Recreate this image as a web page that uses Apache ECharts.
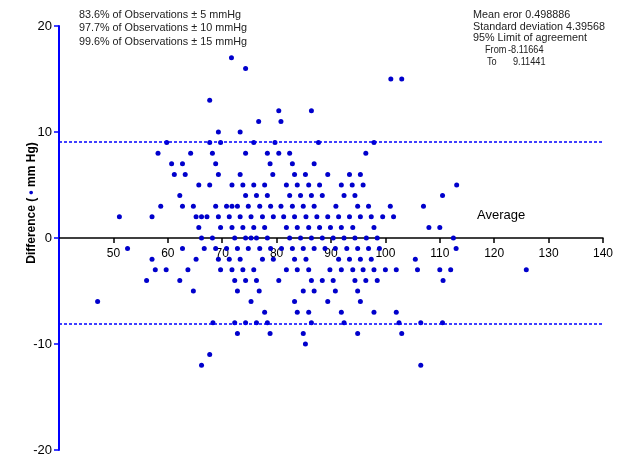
<!DOCTYPE html>
<html>
<head>
<meta charset="utf-8">
<script src="https://cdn.jsdelivr.net/npm/echarts@6/dist/echarts.min.js"></script>
<style>html,body{margin:0;padding:0;background:#fff}#c{width:619px;height:456px}</style>
</head>
<body>
<div id="c"></div>
<script>
// Difference levels (mm Hg) and the averages (mm Hg) of the observations at each level
const diffLevels = [17, 16, 15, 13, 12, 11, 10, 9, 8, 7, 6, 5, 4, 3, 2, 1, 0, -1, -2, -3, -4, -5, -6, -7, -8, -9, -10, -11, -12];
const averagesByLevel = [
  [71.7],
  [74.3],
  [101.0, 103.0],
  [67.7],
  [80.4, 86.4],
  [76.7, 80.8],
  [69.3, 73.3],
  [59.8, 67.7, 69.7, 75.8, 79.7, 87.7, 97.9],
  [58.2, 64.2, 68.2, 74.3, 78.3, 80.4, 82.4, 96.4],
  [60.7, 62.7, 68.8, 78.8, 82.9, 86.9],
  [61.2, 63.2, 69.3, 73.3, 79.3, 83.3, 85.3, 89.4, 93.4, 95.4],
  [65.7, 67.7, 71.8, 73.8, 75.8, 77.8, 81.8, 83.8, 85.9, 87.9, 91.9, 93.9, 95.9, 113.1],
  [62.2, 74.3, 76.3, 78.3, 82.4, 84.4, 86.4, 88.4, 92.4, 94.4, 110.5],
  [58.7, 62.7, 64.7, 68.8, 70.8, 71.8, 72.8, 74.8, 76.9, 78.9, 80.8, 82.9, 84.9, 86.9, 90.9, 94.9, 96.9, 100.9, 107.0],
  [51.1, 57.1, 65.2, 66.2, 67.2, 69.3, 71.3, 73.3, 75.3, 77.4, 79.4, 81.3, 83.3, 85.4, 87.4, 89.4, 91.4, 93.4, 95.4, 97.4, 99.5, 101.5],
  [65.7, 69.7, 71.8, 73.8, 75.8, 77.8, 81.8, 83.8, 85.9, 87.9, 89.9, 91.9, 94.0, 97.9, 108.0, 110.0],
  [66.2, 68.2, 72.3, 74.3, 75.3, 76.3, 78.3, 82.4, 84.4, 86.4, 88.4, 90.4, 92.4, 94.4, 96.5, 98.5, 112.5],
  [52.6, 62.7, 66.7, 68.8, 70.8, 72.8, 74.8, 76.9, 78.9, 80.9, 82.9, 84.9, 86.9, 88.9, 90.8, 92.9, 94.9, 96.9, 98.9, 113.0],
  [57.1, 65.2, 69.3, 71.3, 73.3, 77.4, 79.4, 83.3, 85.4, 91.4, 93.4, 95.4, 97.4, 105.5],
  [57.7, 59.7, 63.7, 69.7, 71.8, 73.8, 75.8, 81.8, 83.8, 85.9, 89.8, 91.9, 94.0, 95.9, 97.9, 100.0, 102.0, 105.9, 110.0, 112.0, 125.9],
  [56.1, 62.2, 72.3, 74.3, 76.3, 80.4, 86.4, 88.4, 90.4, 94.4, 96.4, 98.5, 110.6],
  [64.7, 72.8, 76.8, 84.9, 86.9, 90.8, 94.9],
  [47.1, 75.3, 83.3, 89.4, 95.4],
  [77.8, 83.8, 85.9, 91.9, 97.9, 102.0],
  [68.3, 72.3, 74.3, 76.3, 78.3, 86.4, 92.4, 102.5, 106.5, 110.5],
  [72.8, 78.8, 84.9, 94.9, 103.0],
  [85.3],
  [67.7],
  [66.2, 106.5]
];
const limitUpper = 9.11441;
const limitLower = -8.11664;
const xTicks = [40, 140, 10];
const yTicks = [-20, 20, 10];
const leftNotes = ['83.6% of Observations \u00b1 5 mmHg', '97.7% of Observations \u00b1 10 mmHg', '99.6% of Observations \u00b1 15 mmHg'];
const rightNotes = ['Mean eror 0.498886', 'Standard deviation 4.39568', '95% Limit of agreement'];
const limitNotes = [['From', '-8.11664'], ['To', '9.11441']];

const points = [];
diffLevels.forEach((d, i) => averagesByLevel[i].forEach(a => points.push([a, d])));

const FONT = '"Liberation Sans", Arial, sans-serif';
const NOTE_FONT = '10.8px ' + FONT;
const GRID = { left: 59, right: 16, top: 26, bottom: 6 };
const H = 456;
const zeroOffset = -(H - GRID.top - GRID.bottom) / 2; // x axis drawn at difference 0

const chart = echarts.init(document.getElementById('c'));
const graphics = [];
leftNotes.forEach((t, i) => graphics.push({
  type: 'text', x: 79, y: 15 + i * 13.3,
  style: { text: t, font: NOTE_FONT, fill: '#222', verticalAlign: 'middle' }
}));
rightNotes.forEach((t, i) => graphics.push({
  type: 'text', x: 473, y: 15 + i * 11.7,
  style: { text: t, font: NOTE_FONT, fill: '#222', verticalAlign: 'middle' }
}));
limitNotes.forEach((p, i) => {
  graphics.push({ type: 'text', x: i === 0 ? 485 : 487, y: 50 + i * 11.7, scaleX: 0.85, scaleY: 1, style: { text: p[0], font: NOTE_FONT, fill: '#222', verticalAlign: 'middle' } });
  graphics.push({ type: 'text', x: i === 0 ? 508 : 513, y: 50 + i * 11.7, scaleX: 0.85, scaleY: 1, style: { text: p[1], font: NOTE_FONT, fill: '#222', verticalAlign: 'middle' } });
});
graphics.push({
  type: 'text', x: 477, y: 215,
  style: { text: 'Average', font: '13px ' + FONT, fill: '#000', verticalAlign: 'middle' }
});
graphics.push({
  type: 'text', x: 32, y: 203, rotation: Math.PI / 2,
  style: {
    text: '{a|Difference ( }{b|\u2022}{a| mm Hg)}',
    align: 'center', verticalAlign: 'middle',
    rich: {
      a: { font: 'bold 12px ' + FONT, fill: '#000' },
      b: { font: 'bold 12px ' + FONT, fill: '#0000cc' }
    }
  }
});

chart.setOption({
  animation: false,
  grid: Object.assign({ containLabel: false, outerBoundsMode: 'none' }, GRID),
  xAxis: {
    type: 'value', min: xTicks[0], max: xTicks[1], interval: xTicks[2],
    position: 'bottom', offset: zeroOffset,
    splitLine: { show: false },
    axisLine: { onZero: false, lineStyle: { color: '#000', width: 1.5 } },
    axisTick: { show: true, length: 5, lineStyle: { color: '#000', width: 1.5 } },
    axisLabel: { showMinLabel: false, color: '#000', fontSize: 12, fontFamily: FONT, margin: 10 }
  },
  yAxis: {
    type: 'value', min: yTicks[0], max: yTicks[1], interval: yTicks[2],
    splitLine: { show: false },
    axisLine: { onZero: false, lineStyle: { color: '#0000ff', width: 2 } },
    axisTick: { show: true, length: 5, lineStyle: { color: '#0000ff', width: 1.5 } },
    axisLabel: { color: '#000', fontSize: 13, fontFamily: FONT, margin: 7 }
  },
  graphic: graphics,
  series: [{
    type: 'scatter',
    data: points,
    symbolSize: 5,
    itemStyle: { color: '#0000cc', opacity: 1 },
    markLine: {
      silent: true, symbol: 'none',
      label: { show: false },
      lineStyle: { color: '#0000ff', type: [3, 2], width: 1.5 },
      data: [{ yAxis: limitUpper }, { yAxis: limitLower }]
    }
  }]
});
</script>
</body>
</html>
